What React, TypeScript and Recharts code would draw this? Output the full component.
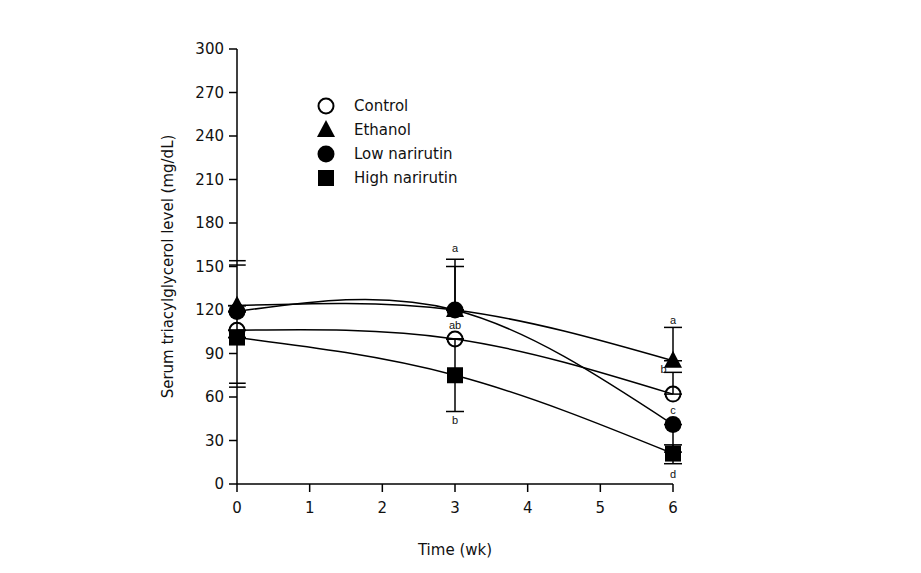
import { LineChart, Line, XAxis, YAxis, ErrorBar, ReferenceLine, ReferenceDot } from 'recharts'

const weeks = [0, 3, 6]
const control = [106, 100, 62]
const ethanol = [123, 120, 85]
const lowNarirutin = [119, 120, 41]
const highNarirutin = [101, 75, 21]

// [lower, upper] error per point
const controlErr = [[0, 0], [0, 0], [0, 15]]
const ethanolErr = [[0, 0], [0, 35], [0, 23]]
const lowErr = [[0, 0], [0, 30], [19, 0]]
const highErr = [[0, 0], [25, 25], [7, 6]]

const xTicks = [0, 1, 2, 3, 4, 5, 6]
const yTicks = [0, 30, 60, 90, 120, 150, 180, 210, 240, 270, 300]

const letters = [
  { x: 3, y: 163, text: 'a' },
  { x: 3, y: 110, text: 'ab' },
  { x: 3, y: 44, text: 'b' },
  { x: 6, y: 113, text: 'a' },
  { x: 5.87, y: 79, text: 'b' },
  { x: 6, y: 51, text: 'c' },
  { x: 6, y: 7, text: 'd' },
]

const breaks = [154, 151, 69.5, 66.8]

const data = weeks.map((wk, i) => ({
  wk,
  control: control[i],
  ethanol: ethanol[i],
  low: lowNarirutin[i],
  high: highNarirutin[i],
  controlErr: controlErr[i],
  ethanolErr: ethanolErr[i],
  lowErr: lowErr[i],
  highErr: highErr[i],
}))

const FONT = '"DejaVu Sans", Verdana, sans-serif'

function makeDot(kind: string) {
  return (props: any) => {
    const { cx, cy, index } = props
    if (cx == null || cy == null) return <g key={index} />
    if (kind === 'open') {
      return <circle key={index} cx={cx} cy={cy} r={7.5} fill="none" stroke="#000" strokeWidth={2} />
    }
    if (kind === 'circle') {
      return <circle key={index} cx={cx} cy={cy} r={8.5} fill="#000" />
    }
    if (kind === 'square') {
      return <rect key={index} x={cx - 8} y={cy - 8} width={16} height={16} fill="#000" />
    }
    return (
      <polygon
        key={index}
        points={`${cx},${cy - 10} ${cx - 9},${cy + 7} ${cx + 9},${cy + 7}`}
        fill="#000"
      />
    )
  }
}

const legendItems = [
  { label: 'Control', kind: 'open' },
  { label: 'Ethanol', kind: 'tri' },
  { label: 'Low narirutin', kind: 'circle' },
  { label: 'High narirutin', kind: 'square' },
]

function LetterLabel(props: any) {
  const { viewBox, value } = props
  if (!viewBox) return null
  return (
    <text
      x={viewBox.x + (viewBox.width || 0) / 2}
      y={viewBox.y + (viewBox.height || 0) / 2}
      textAnchor="middle"
      dominantBaseline="central"
      fill="#111"
      fontSize={11}
      fontFamily='Arial, "Liberation Sans", sans-serif'
    >
      {value}
    </text>
  )
}

export default function App() {
  return (
    <div style={{ position: 'absolute', left: 0, top: 0, width: 921, height: 573, background: '#fff' }}>
      <LineChart
        width={921}
        height={573}
        data={data}
        margin={{ top: 49, right: 248, bottom: 29, left: 177 }}
      >
        <XAxis
          dataKey="wk"
          type="number"
          domain={[0, 6]}
          ticks={xTicks}
          height={60}
          tickSize={8}
          stroke="#000"
          strokeWidth={1.5}
          tick={{ fill: '#111', fontSize: 15, fontFamily: FONT, dy: 8 }}
          label={{ value: 'Time (wk)', position: 'insideBottom', offset: -11, fill: '#111', fontSize: 15, fontFamily: FONT }}
        />
        <YAxis
          type="number"
          domain={[0, 300]}
          ticks={yTicks}
          width={60}
          tickSize={8}
          stroke="#000"
          strokeWidth={1.5}
          tick={{ fill: '#111', fontSize: 15, fontFamily: FONT, dx: -3 }}
          label={{ value: 'Serum triacylglycerol level (mg/dL)', angle: -90, position: 'insideLeft', offset: 0, dx: -9, style: { textAnchor: 'middle' }, fill: '#111', fontSize: 15, fontFamily: FONT }}
        />
        {breaks.map((b, i) => (
          <ReferenceLine
            key={i}
            segment={[{ x: -0.11, y: b }, { x: 0.12, y: b }]}
            stroke="#000"
            strokeWidth={1.5}
            ifOverflow="visible"
          />
        ))}
        <Line type="natural" dataKey="control" stroke="#000" strokeWidth={1.5} dot={makeDot('open')} activeDot={false} isAnimationActive={false}>
          <ErrorBar dataKey="controlErr" direction="y" width={9} stroke="#000" strokeWidth={1.5} isAnimationActive={false} />
        </Line>
        <Line type="natural" dataKey="ethanol" stroke="#000" strokeWidth={1.5} dot={makeDot('tri')} activeDot={false} isAnimationActive={false}>
          <ErrorBar dataKey="ethanolErr" direction="y" width={9} stroke="#000" strokeWidth={1.5} isAnimationActive={false} />
        </Line>
        <Line type="natural" dataKey="low" stroke="#000" strokeWidth={1.5} dot={makeDot('circle')} activeDot={false} isAnimationActive={false}>
          <ErrorBar dataKey="lowErr" direction="y" width={9} stroke="#000" strokeWidth={1.5} isAnimationActive={false} />
        </Line>
        <Line type="natural" dataKey="high" stroke="#000" strokeWidth={1.5} dot={makeDot('square')} activeDot={false} isAnimationActive={false}>
          <ErrorBar dataKey="highErr" direction="y" width={9} stroke="#000" strokeWidth={1.5} isAnimationActive={false} />
        </Line>
        {letters.map((l, i) => (
          <ReferenceDot
            key={i}
            x={l.x}
            y={l.y}
            r={0}
            fill="none"
            stroke="none"
            ifOverflow="visible"
            label={<LetterLabel value={l.text} />}
          />
        ))}
      </LineChart>
      <div style={{ position: 'absolute', left: 316, top: 94, fontFamily: FONT, fontSize: 15, color: '#111' }}>
        {legendItems.map(item => (
          <div key={item.label} style={{ display: 'flex', alignItems: 'center', height: 24 }}>
            <svg width={20} height={20} style={{ marginRight: 18 }}>
              {makeDot(item.kind)({ cx: 10, cy: 10, index: 0 })}
            </svg>
            <span>{item.label}</span>
          </div>
        ))}
      </div>
    </div>
  )
}
